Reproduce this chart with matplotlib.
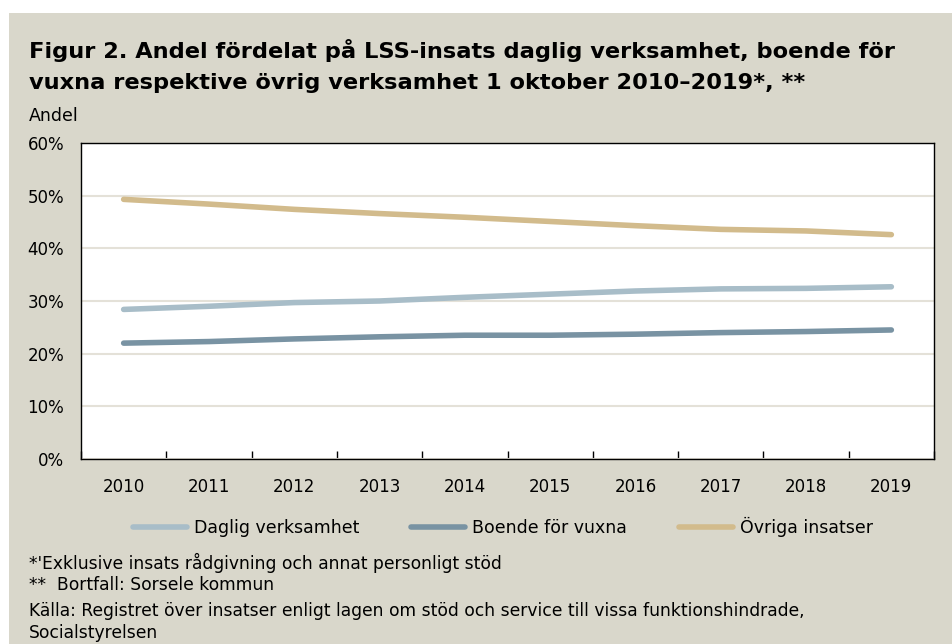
import matplotlib.pyplot as plt
from matplotlib.patches import Rectangle
from matplotlib.ticker import FixedLocator, PercentFormatter

years = [2010, 2011, 2012, 2013, 2014, 2015, 2016, 2017, 2018, 2019]
daglig = [28.4, 29.0, 29.7, 30.0, 30.7, 31.3, 31.9, 32.3, 32.4, 32.7]
boende = [22.0, 22.3, 22.8, 23.2, 23.5, 23.5, 23.7, 24.0, 24.2, 24.5]
ovriga = [49.3, 48.4, 47.4, 46.6, 45.9, 45.1, 44.3, 43.6, 43.3, 42.6]

bg = '#D9D7CB'
c_daglig = '#A8BDC8'
c_boende = '#7993A3'
c_ovriga = '#D2BB8C'

fig = plt.figure(figsize=(9.52, 6.44), dpi=100)
fig.patch.set_facecolor('white')
# beige panel (white margin at top and left like the reference)
fig.add_artist(Rectangle((9 / 952, 0), 1, (644 - 13) / 644, transform=fig.transFigure,
                         facecolor=bg, edgecolor='none', zorder=0))

fig.text(29 / 952, 1 - 58 / 644, 'Figur 2. Andel fördelat på LSS-insats daglig verksamhet, boende för',
         fontsize=16.2, fontweight='bold', family='DejaVu Sans', va='baseline')
fig.text(29 / 952, 1 - 89 / 644, 'vuxna respektive övrig verksamhet 1 oktober 2010–2019*, **',
         fontsize=16.2, fontweight='bold', family='DejaVu Sans', va='baseline')
fig.text(29 / 952, 1 - 116 / 644, 'Andel', fontsize=12.5, va='center')

ax = fig.add_axes([81 / 952, 1 - 459 / 644, (934 - 81) / 952, (459 - 143) / 644])
x = list(range(len(years)))
ax.plot(x, daglig, color=c_daglig, lw=4, solid_capstyle='round', label='Daglig verksamhet')
ax.plot(x, boende, color=c_boende, lw=4, solid_capstyle='round', label='Boende för vuxna')
ax.plot(x, ovriga, color=c_ovriga, lw=4, solid_capstyle='round', label='Övriga insatser')

ax.set_xlim(-0.5, len(years) - 0.5)
ax.set_ylim(0, 60)
ax.set_yticks(range(0, 61, 10))
ax.yaxis.set_major_formatter(PercentFormatter(decimals=0))
ax.set_xticks(x)
ax.set_xticklabels([str(y) for y in years])
ax.xaxis.set_minor_locator(FixedLocator([i - 0.5 for i in range(len(years) + 1)]))
ax.tick_params(axis='x', which='major', length=0, pad=14, labelsize=12)
ax.tick_params(axis='x', which='minor', direction='in', length=6, width=1)
ax.tick_params(axis='y', length=0, pad=12, labelsize=12)
ax.grid(axis='y', color='#E4E1D8', lw=1.5)
ax.set_axisbelow(True)
for s in ax.spines.values():
    s.set_color('black')
    s.set_linewidth(1)

fig.legend(loc='center', bbox_to_anchor=(503 / 952, 1 - 527 / 644), ncol=3, frameon=False,
           fontsize=12.5, handlelength=3.1, handletextpad=0.4, columnspacing=3.0)

fn = 12.3
fig.text(29 / 952, 1 - 563 / 644, "*'Exklusive insats rådgivning och annat personligt stöd",
         fontsize=fn, va='center')
fig.text(29 / 952, 1 - 585 / 644, '**  Bortfall: Sorsele kommun', fontsize=fn, va='center')
fig.text(29 / 952, 1 - 611 / 644,
         'Källa: Registret över insatser enligt lagen om stöd och service till vissa funktionshindrade,',
         fontsize=fn, va='center')
fig.text(29 / 952, 1 - 633 / 644, 'Socialstyrelsen', fontsize=fn, va='center')

fig.savefig('out.png', dpi=100, facecolor=fig.get_facecolor())
